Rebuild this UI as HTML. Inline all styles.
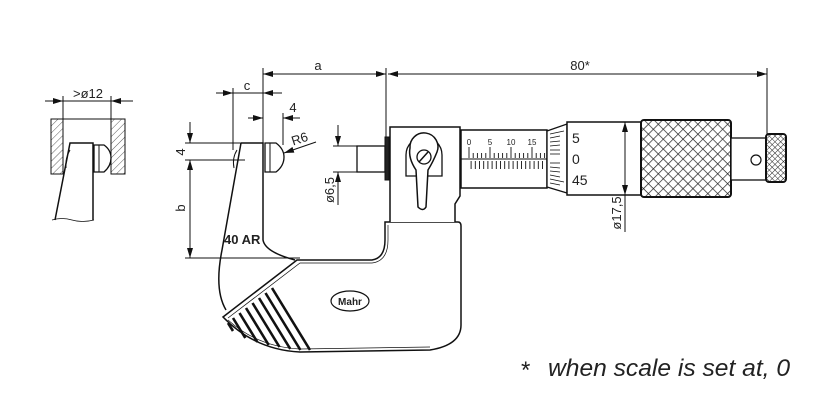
<!DOCTYPE html>
<html><head><meta charset="utf-8"><style>
html,body{margin:0;padding:0;background:#fff;}
svg{display:block}
text{font-family:"Liberation Sans",Arial,sans-serif;fill:#222}
</style></head><body>
<svg width="818" height="407" viewBox="0 0 818 407" xmlns="http://www.w3.org/2000/svg">
<defs>
<pattern id="hatch" width="5" height="5" patternUnits="userSpaceOnUse" patternTransform="rotate(45)">
<line x1="0" y1="0" x2="0" y2="5" stroke="#333" stroke-width="0.8"/>
</pattern>
<pattern id="knurl" width="7" height="7" patternUnits="userSpaceOnUse" patternTransform="rotate(45)">
<rect width="7" height="7" fill="#fff"/>
<line x1="0" y1="0" x2="7" y2="0" stroke="#222" stroke-width="1.4"/>
<line x1="0" y1="0" x2="0" y2="7" stroke="#222" stroke-width="1.4"/>
</pattern>
<pattern id="knurl2" width="4" height="4" patternUnits="userSpaceOnUse" patternTransform="rotate(45)">
<rect width="4" height="4" fill="#fff"/>
<line x1="0" y1="0" x2="4" y2="0" stroke="#222" stroke-width="1"/>
<line x1="0" y1="0" x2="0" y2="4" stroke="#222" stroke-width="1"/>
</pattern>
<marker id="ar" viewBox="0 0 10 6" refX="10" refY="3" markerWidth="10" markerHeight="6" markerUnits="userSpaceOnUse" orient="auto">
<path d="M0,0 L10,3 L0,6 Z" fill="#111"/>
</marker>
</defs>
<g fill="none" stroke="#111" stroke-width="1">

<!-- inset -->
<rect x="51" y="119" width="12" height="55" fill="url(#hatch)"/>
<rect x="111" y="119" width="14" height="55" fill="url(#hatch)"/>
<line x1="51" y1="119" x2="125" y2="119"/>
<line x1="45" y1="101" x2="133" y2="101"/>
<line x1="45" y1="101" x2="63" y2="101" marker-end="url(#ar)"/>
<line x1="133" y1="101" x2="111" y2="101" marker-end="url(#ar)"/>
<line x1="63" y1="96" x2="63" y2="119"/>
<line x1="111" y1="96" x2="111" y2="119"/>
<path d="M55,220 L70,143 L93,143 L93,220" fill="#fff" stroke-width="1.5"/>
<path d="M52,220 q10,-3 20,0 t22,0" stroke-width="0.8"/>
<path d="M70,150 q-5,8 -4,18" />
<path d="M94,145 L104,145 Q111,150 111,158 Q111,166 104,172 L94,172 Z" fill="#fff" stroke-width="1.3"/>
<line x1="99" y1="145" x2="99" y2="172"/>

<!-- top dims -->
<line x1="263" y1="68" x2="263" y2="143"/>
<line x1="386" y1="68" x2="386" y2="137"/>
<line x1="767" y1="68" x2="767" y2="134"/>
<line x1="324" y1="74" x2="263" y2="74" marker-end="url(#ar)"/>
<line x1="324" y1="74" x2="386" y2="74" marker-end="url(#ar)"/>
<line x1="580" y1="74" x2="388" y2="74" marker-end="url(#ar)"/>
<line x1="580" y1="74" x2="767" y2="74" marker-end="url(#ar)"/>
<!-- c -->
<line x1="233" y1="88" x2="233" y2="150"/>
<line x1="216" y1="93" x2="233" y2="93" marker-end="url(#ar)"/>
<line x1="282" y1="93" x2="263" y2="93" marker-end="url(#ar)"/>
<line x1="233" y1="93" x2="263" y2="93"/>
<!-- 4 horizontal -->
<line x1="283" y1="113" x2="283" y2="145"/>
<line x1="248" y1="118" x2="263" y2="118" marker-end="url(#ar)"/>
<line x1="300" y1="118" x2="283" y2="118" marker-end="url(#ar)"/>
<!-- R6 -->
<line x1="316" y1="142" x2="284" y2="153" marker-end="url(#ar)"/>
<!-- vertical 4 and b -->
<line x1="185" y1="143" x2="241" y2="143"/>
<line x1="185" y1="160" x2="245" y2="160"/>
<line x1="185" y1="258" x2="300" y2="258"/>
<line x1="190" y1="122" x2="190" y2="143" marker-end="url(#ar)"/>
<line x1="190" y1="208" x2="190" y2="160" marker-end="url(#ar)"/>
<line x1="190" y1="208" x2="190" y2="258" marker-end="url(#ar)"/>
<!-- ø6,5 -->
<line x1="333" y1="146" x2="357" y2="146"/>
<line x1="333" y1="172" x2="357" y2="172"/>
<line x1="338" y1="125" x2="338" y2="146" marker-end="url(#ar)"/>
<line x1="338" y1="205" x2="338" y2="172" marker-end="url(#ar)"/>

<!-- frame lower body -->
<path d="M223,317 L297,260 L372,260 Q385,258 385,240 L385,222 L458,222 Q461,222 461,226 L461,325 Q461,345 430,350 L300,352 Q255,350 223,317 Z" fill="#fff" stroke-width="1.5"/>
<path d="M228,318 L300,263 L372,263 Q388,261 388,240 L388,225" stroke-width="0.7"/>
<path d="M228,320 Q258,347 300,349 L430,347" stroke-width="0.7"/>
<!-- arm -->
<path d="M241,143 L263,143 L263,240 Q265,252 295,260" stroke-width="1.5"/>
<path d="M241,143 L222,250 Q214,290 226,310" stroke-width="1.5"/>
<path d="M237,150 q-5,8 -3,18" />
<!-- stripes -->
<g stroke-width="2.6">
<line x1="272" y1="288" x2="310" y2="350"/>
<line x1="265.5" y1="293" x2="300.4" y2="350"/>
<line x1="259" y1="298" x2="290.3" y2="349"/>
<line x1="252.5" y1="303" x2="279.5" y2="347"/>
<line x1="246" y1="308" x2="268.7" y2="345"/>
<line x1="239.5" y1="313" x2="257.3" y2="342"/>
<line x1="233" y1="318" x2="245.3" y2="338"/>
<line x1="228" y1="323" x2="233" y2="331"/>
</g>
<ellipse cx="350" cy="301" rx="19" ry="10" stroke-width="1.2" fill="#fff"/>

<!-- spindle tip -->
<path d="M265,143 L276,143 Q284,149 284,157 Q284,166 276,172 L265,172 Z" fill="#fff" stroke-width="1.3"/>
<line x1="270" y1="143" x2="270" y2="172"/>
<!-- spindle -->
<rect x="357" y="146" width="28" height="26" fill="#fff" stroke-width="1.3"/>
<rect x="385" y="137" width="4" height="43" fill="#222"/>
<!-- head -->
<path d="M390,222 L390,127 L460,127 L460,196 L455,204 L455,222" fill="#fff" stroke-width="1.5"/>
<!-- lock lever -->
<path d="M406,176 L406,155 A17,17 0 1 1 442,155 L442,176 Z" fill="#fff" stroke-width="1.3"/>
<path d="M416,170 Q408,158 410,148 A14,14 0 1 1 437,152 Q433,162 428,170 L426,207 Q423,212 418,207 Z" fill="#fff" stroke-width="1.5"/>
<circle cx="424" cy="157" r="7" stroke-width="1.3"/>
<line x1="419" y1="162" x2="428" y2="152" stroke-width="1.5"/>
<!-- sleeve -->
<rect x="461" y="130" width="86" height="58" fill="#fff" stroke-width="1.5"/>
<line x1="461" y1="159" x2="575" y2="159"/>
<!-- thimble cone -->
<path d="M547,131 L567,124 L567,193 L547,187 Z" fill="#fff" stroke-width="1.3"/>
<g stroke-width="0.8">
<line x1="550" y1="134" x2="564" y2="131"/><line x1="550" y1="138" x2="560" y2="136"/>
<line x1="550" y1="142" x2="560" y2="141"/><line x1="550" y1="146" x2="560" y2="145"/>
<line x1="550" y1="150" x2="560" y2="150"/><line x1="550" y1="154" x2="560" y2="154"/>
<line x1="550" y1="163" x2="560" y2="163"/><line x1="550" y1="167" x2="560" y2="168"/>
<line x1="550" y1="171" x2="560" y2="172"/><line x1="550" y1="175" x2="560" y2="177"/>
<line x1="550" y1="179" x2="564" y2="182"/><line x1="550" y1="183" x2="560" y2="185"/>
</g>
<!-- thimble -->
<rect x="567" y="122" width="74" height="73" fill="#fff" stroke-width="1.5"/>
<!-- ø17,5 -->
<line x1="625" y1="158" x2="625" y2="122" marker-end="url(#ar)"/>
<line x1="625" y1="158" x2="625" y2="195" marker-end="url(#ar)"/>
<line x1="625" y1="195" x2="625" y2="232"/>
<!-- ratchet knurl -->
<rect x="641" y="120" width="90" height="77" rx="3" fill="url(#knurl)" stroke-width="2"/>
<rect x="731" y="138" width="35" height="42" fill="#fff" stroke-width="1.3"/>
<circle cx="756" cy="160" r="5" stroke-width="1.2"/>
<rect x="766" y="134" width="20" height="48" rx="3" fill="url(#knurl2)" stroke-width="2"/>
</g>

<!-- sleeve ticks -->
<g stroke="#111" stroke-width="0.9">
<path d="M469,147V158 M473.2,153V158 M477.4,153V158 M481.6,153V158 M485.8,153V158 M490,147V158 M494.2,153V158 M498.4,153V158 M502.6,153V158 M506.8,153V158 M511,147V158 M515.2,153V158 M519.4,153V158 M523.6,153V158 M527.8,153V158 M532,147V158 M536.2,153V158 M540.4,153V158 M544.6,153V158"/>
<path d="M471.1,161V169 M475.3,161V169 M479.5,161V169 M483.7,161V169 M487.9,161V169 M492.1,161V169 M496.3,161V169 M500.5,161V169 M504.7,161V169 M508.9,161V169 M513.1,161V169 M517.3,161V169 M521.5,161V169 M525.7,161V169 M529.9,161V169 M534.1,161V169 M538.3,161V169 M542.5,161V169"/>
</g>
<g font-size="8" text-anchor="middle">
<text x="469" y="145">0</text><text x="490" y="145">5</text><text x="511" y="145">10</text><text x="532" y="145">15</text>
</g>

<!-- labels -->
<text x="318" y="70" font-size="13" text-anchor="middle">a</text>
<text x="580" y="70" font-size="13" text-anchor="middle">80*</text>
<text x="247" y="90" font-size="13" text-anchor="middle">c</text>
<text x="293" y="112" font-size="13" text-anchor="middle">4</text>
<text x="301" y="143" font-size="13" text-anchor="middle" transform="rotate(-18 301 143)">R6</text>
<text x="88" y="98" font-size="13" text-anchor="middle">&gt;ø12</text>
<text x="185" y="152" font-size="13" text-anchor="middle" transform="rotate(-90 185 152)">4</text>
<text x="185" y="208" font-size="13" text-anchor="middle" transform="rotate(-90 185 208)">b</text>
<text x="334" y="190" font-size="13" text-anchor="middle" transform="rotate(-90 334 190)">ø6,5</text>
<text x="621" y="213" font-size="13" text-anchor="middle" transform="rotate(-90 621 213)">ø17,5</text>
<text x="224" y="244" font-size="13" font-weight="bold">40 AR</text>
<text x="350" y="305" font-size="10" font-weight="bold" text-anchor="middle">Mahr</text>
<text x="572" y="143" font-size="14">5</text>
<text x="572" y="164" font-size="14">0</text>
<text x="572" y="185" font-size="14">45</text>
<text x="520" y="378" font-size="24" font-style="italic">*</text>
<text x="548" y="376" font-size="24" font-style="italic" textLength="242" lengthAdjust="spacingAndGlyphs">when scale is set at, 0</text>
</svg>
</body></html>
